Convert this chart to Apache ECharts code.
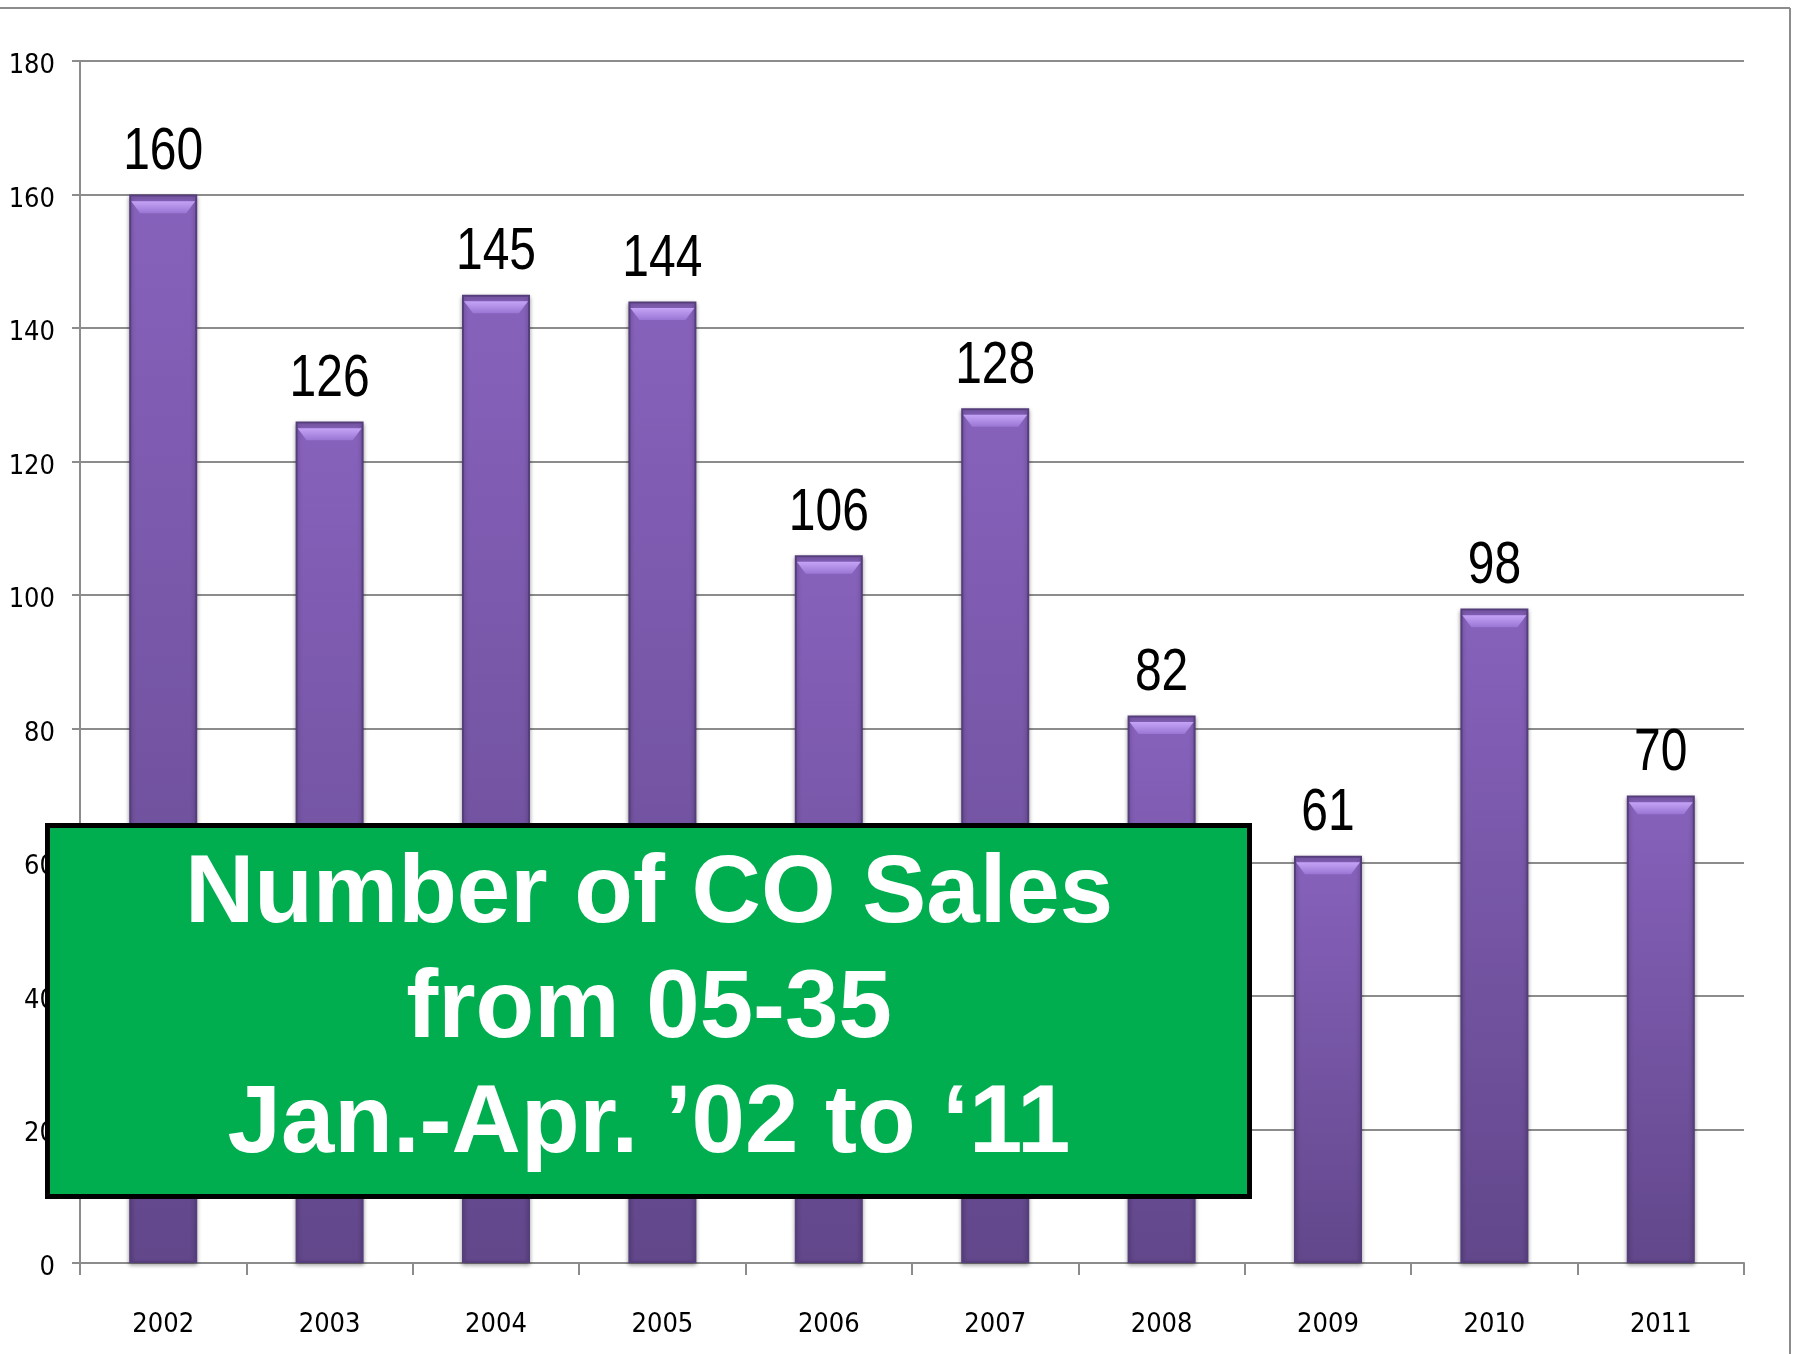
<!DOCTYPE html>
<html>
<head>
<meta charset="utf-8">
<script src="https://cdn.jsdelivr.net/npm/echarts@6/dist/echarts.min.js"></script>
<style>
html,body{margin:0;padding:0;background:#fff;}
#chart{width:1799px;height:1354px;}
</style>
</head>
<body>
<div id="chart"></div>
<script>
const years = ['2002','2003','2004','2005','2006','2007','2008','2009','2010','2011'];
const sales = [160,126,145,144,106,128,82,61,98,70];
const yTicks = [0,20,40,60,80,100,120,140,160,180];
const boxLines = ['Number of CO Sales', 'from 05-35', 'Jan.-Apr. \u201902 to \u201811'];

const cond = "'DejaVu Sans Condensed','DejaVu Sans',sans-serif";
const chart = echarts.init(document.getElementById('chart'), null, {renderer:'canvas'});
const option = {
  backgroundColor:'#ffffff',
  animation:false,
  grid:{left:80,right:55,top:61,bottom:91,containLabel:false},
  xAxis:{
    type:'category',
    data:years,
    boundaryGap:true,
    axisLine:{show:true,lineStyle:{color:'#8c8c8c',width:2}},
    axisTick:{show:true,length:12,alignWithLabel:false,lineStyle:{color:'#8c8c8c',width:2}},
    axisLabel:{color:'#000',fontSize:27,fontFamily:cond,margin:48},
    splitLine:{show:false}
  },
  yAxis:{
    type:'value',
    min:yTicks[0],
    max:yTicks[yTicks.length-1],
    interval:yTicks[1]-yTicks[0],
    axisLine:{show:true,lineStyle:{color:'#8c8c8c',width:2}},
    axisTick:{show:true,length:8,lineStyle:{color:'#8c8c8c',width:2}},
    axisLabel:{
      margin:25,
      formatter:'{v|{value}}',
      rich:{v:{color:'#000',fontSize:27,fontFamily:cond,padding:[10,0,0,0]}}
    },
    splitLine:{show:true,lineStyle:{color:'#8c8c8c',width:2}}
  },
  series:[
    {
      type:'bar',
      data:sales,
      barWidth:68,
      itemStyle:{
        color:new echarts.graphic.LinearGradient(0,0,0,1,[
          {offset:0,color:'#8762bc'},
          {offset:1,color:'#62478b'}
        ]),
        borderColor:'#563e7c',
        borderWidth:2,
        shadowColor:'rgba(0,0,0,0.35)',
        shadowBlur:4,
        shadowOffsetY:2
      },
      label:{show:false},
      z:2
    },
    {
      type:'pictorialBar',
      data:sales,
      symbol:'path://M0,0 L100,0 L86,14 L14,14 Z',
      symbolSize:[64,12],
      symbolPosition:'end',
      symbolOffset:[0,'55%'],
      itemStyle:{color:new echarts.graphic.LinearGradient(0,0,0,1,[
          {offset:0,color:'#c4a4f6'},
          {offset:1,color:'#9a76d4'}
        ])},
      label:{show:false},
      silent:true,
      z:3
    },
    {
      type:'custom',
      data:sales.map((v,i)=>[i,v]),
      encode:{x:0,y:1},
      silent:true,
      z:4,
      renderItem:function(params, api){
        const v = api.value(1);
        const p = api.coord([api.value(0), v]);
        return {
          type:'text',
          x:p[0],
          y:p[1]-42,
          scaleX:0.8,
          style:{
            text:String(v),
            fill:'#000',
            font:"60px 'Liberation Sans',Arial,sans-serif",
            align:'center',
            verticalAlign:'middle'
          }
        };
      }
    }
  ],
  graphic:[
    {type:'line',shape:{x1:0,y1:8,x2:1790,y2:8},style:{stroke:'#8c8c8c',lineWidth:2},z:10},
    {type:'line',shape:{x1:1790,y1:8,x2:1790,y2:1354},style:{stroke:'#8c8c8c',lineWidth:2},z:10},
    {type:'rect',shape:{x:47.5,y:825.5,width:1202,height:371},style:{fill:'#00ae50',stroke:'#000',lineWidth:5},z:20},
    {type:'text',x:649,y:1011,style:{text:boxLines.join('\n'),fill:'#fff',font:"bold 96px 'Liberation Sans',Arial,sans-serif",lineHeight:115,align:'center',verticalAlign:'middle'},z:21}
  ]
};
chart.setOption(option);
</script>
</body>
</html>
